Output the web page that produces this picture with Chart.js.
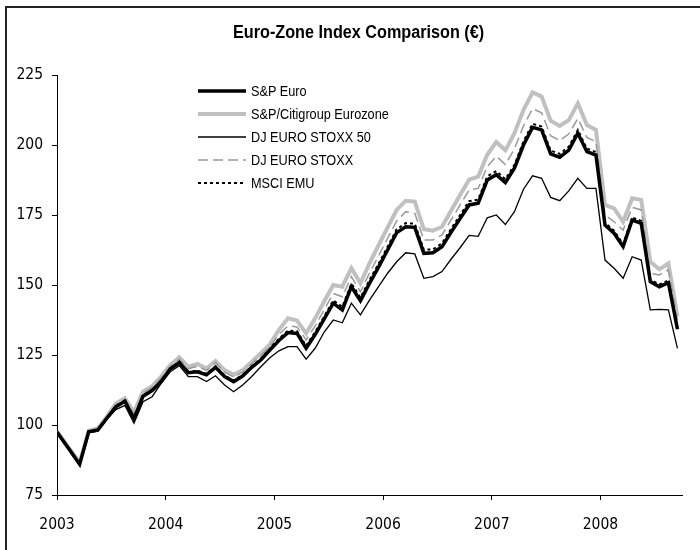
<!DOCTYPE html>
<html lang="en">
<head>
  <meta charset="UTF-8">
  <title>Euro-Zone Index Comparison (€)</title>
  <script src="https://cdn.jsdelivr.net/npm/chart.js"></script>
  <style>
    * { box-sizing: border-box; }
    html, body { margin: 0; padding: 0; background: #fff; overflow: hidden; }
    body { font-family: "Liberation Sans", Arial, sans-serif; }
    .wrap { position: relative; width: 700px; height: 550px; overflow: hidden; }
    .frame {
      position: absolute; left: 5px; top: 6px; width: 800px; height: 700px;
      border: 2px solid #222; pointer-events: none;
    }
    /* no narrow font installed, so squeeze Liberation Sans a bit */
    .title {
      position: absolute; left: 233px; top: 22px; white-space: nowrap;
      font-weight: bold; font-size: 18px; color: #000;
      transform: scaleX(0.9); transform-origin: left top;
    }
    .legend { position: absolute; left: 196px; top: 79px; }
    .legend .row { display: flex; align-items: center; height: 23.2px; }
    .legend svg { width: 52px; height: 10px; margin-right: 3px; flex: none; }
    .legend span {
      font-size: 15.5px; color: #000; white-space: nowrap;
      display: inline-block; transform: scaleX(0.82); transform-origin: left center;
    }
  </style>
</head>
<body>
  <div class="wrap">
    <canvas id="chart" width="700" height="550"></canvas>
    <div class="frame"></div>
    <div class="title">Euro-Zone Index Comparison (€)</div>
    <div class="legend" id="legend"></div>
  </div>

  <script>
    // x positions in months from Jan 2003 (first value sits on the axis, then mid-month points)
    const months = [0, 0.5, 1.5, 2.5, 3.5, 4.5, 5.5, 6.5, 7.5, 8.5, 9.5, 10.5, 11.5,
      12.5, 13.5, 14.5, 15.5, 16.5, 17.5, 18.5, 19.5, 20.5, 21.5, 22.5, 23.5,
      24.5, 25.5, 26.5, 27.5, 28.5, 29.5, 30.5, 31.5, 32.5, 33.5, 34.5, 35.5,
      36.5, 37.5, 38.5, 39.5, 40.5, 41.5, 42.5, 43.5, 44.5, 45.5, 46.5, 47.5,
      48.5, 49.5, 50.5, 51.5, 52.5, 53.5, 54.5, 55.5, 56.5, 57.5, 58.5, 59.5,
      60.5, 61.5, 62.5, 63.5, 64.5, 65.5, 66.5, 67.5, 68.5];

    const spEuro = [97.5, 95.2, 90.6, 86.0, 97.6, 98.2, 102.4, 106.5, 108.5, 102.2, 110.3, 112.3, 115.5,
      120.0, 122.3, 118.7, 119.0, 117.9, 120.6, 117.3, 115.5, 117.5, 120.6, 123.2, 126.8,
      130.2, 133.0, 132.7, 127.4, 132.3, 137.9, 143.5, 141.1, 149.4, 144.4, 150.6, 156.4,
      162.5, 168.7, 170.8, 170.6, 161.3, 161.5, 163.7, 168.8, 173.7, 178.6, 179.2, 187.5,
      189.4, 186.6, 191.7, 200.0, 206.3, 205.4, 196.8, 195.6, 198.2, 204.2, 197.6, 196.4,
      171.4, 168.5, 163.7, 173.2, 172.0, 151.2, 149.4, 150.8, 134.2];

    const citiEurozone = [97.8, 95.5, 91.0, 86.5, 98.0, 98.8, 103.0, 107.7, 109.6, 104.5, 111.9, 113.9, 117.3,
      121.4, 124.2, 120.8, 121.8, 120.2, 122.9, 119.6, 117.9, 119.6, 122.6, 125.6, 128.8,
      134.0, 138.1, 137.3, 132.7, 138.1, 144.2, 150.0, 149.4, 156.0, 150.6, 157.7, 164.2,
      170.6, 176.8, 180.1, 179.8, 169.9, 169.4, 170.8, 176.5, 182.1, 187.6, 188.7, 196.5,
      201.1, 198.1, 204.2, 212.5, 218.8, 217.3, 208.7, 206.8, 208.9, 214.9, 207.1, 205.4,
      178.6, 177.4, 172.6, 181.0, 180.4, 158.3, 155.6, 157.7, 138.7];

    const djStoxx50 = [97.3, 94.9, 90.2, 85.5, 97.3, 97.8, 102.0, 105.5, 107.0, 100.6, 108.3, 110.1, 114.9,
      119.0, 121.2, 117.3, 117.3, 115.5, 117.6, 114.3, 111.9, 114.3, 117.3, 120.8, 124.0,
      126.5, 128.0, 128.0, 123.5, 127.4, 133.2, 137.5, 136.5, 143.5, 139.3, 144.6, 149.4,
      154.2, 158.3, 161.5, 161.1, 152.4, 153.0, 154.8, 159.2, 163.3, 167.7, 167.4, 174.0,
      175.0, 171.6, 176.2, 184.2, 189.0, 188.1, 181.3, 180.1, 183.6, 188.1, 184.5, 184.5,
      158.9, 156.0, 152.4, 160.1, 158.9, 141.1, 141.3, 141.1, 127.4];

    const djStoxx = [97.7, 95.4, 90.9, 86.3, 97.9, 98.6, 102.8, 107.3, 109.2, 103.9, 111.4, 113.4, 116.8,
      120.9, 123.5, 120.1, 121.0, 119.5, 122.2, 118.9, 117.1, 118.9, 121.9, 124.8, 128.0,
      132.4, 135.4, 135.0, 130.4, 135.4, 141.2, 147.0, 145.8, 153.0, 147.6, 154.3, 160.4,
      166.7, 172.9, 176.2, 175.6, 166.1, 166.1, 167.9, 173.2, 178.6, 183.9, 184.5, 192.3,
      196.0, 193.0, 198.6, 206.8, 213.0, 211.5, 203.3, 201.6, 203.9, 209.5, 202.7, 201.2,
      175.0, 172.6, 169.6, 177.7, 176.8, 154.2, 153.6, 155.4, 137.5];

    const msciEmu = [97.5, 95.2, 90.6, 86.0, 97.6, 98.3, 102.5, 106.8, 108.7, 102.6, 110.6, 112.6, 115.8,
      120.2, 122.6, 119.0, 119.4, 118.3, 121.0, 117.7, 115.9, 117.9, 121.0, 123.7, 127.3,
      130.8, 133.7, 133.5, 128.3, 133.2, 138.8, 144.5, 142.2, 150.5, 145.5, 151.8, 157.6,
      163.7, 169.9, 172.1, 171.9, 162.6, 162.7, 164.9, 170.0, 175.0, 179.9, 180.5, 188.8,
      190.7, 187.8, 192.9, 201.3, 207.6, 206.6, 198.0, 196.8, 199.4, 205.4, 198.7, 197.5,
      172.3, 169.4, 164.6, 174.1, 172.9, 151.9, 150.2, 151.6, 134.8];

    const yearTicks = [0, 12, 24, 36, 48, 60];
    const yearLabels = ['2003', '2004', '2005', '2006', '2007', '2008'];
    const valueTicks = [75, 100, 125, 150, 175, 200, 225];

    const series = [
      { label: 'S&P Euro', data: spEuro, color: '#000', width: 3.5, dash: [], order: 2 },
      { label: 'S&P/Citigroup Eurozone', data: citiEurozone, color: '#c0c0c0', width: 4, dash: [], order: 5 },
      { label: 'DJ EURO STOXX  50', data: djStoxx50, color: '#000', width: 1.3, dash: [], order: 3 },
      { label: 'DJ EURO STOXX', data: djStoxx, color: '#999', width: 1.5, dash: [10, 5], order: 4 },
      { label: 'MSCI EMU', data: msciEmu, color: '#000', width: 2, dash: [3, 3], order: 1 }
    ];

    Chart.defaults.font.family = '"DejaVu Sans Condensed", "Liberation Sans", sans-serif';
    Chart.defaults.color = '#000';

    // html legend
    const legend = document.getElementById('legend');
    series.forEach(s => {
      const row = document.createElement('div');
      row.className = 'row';
      row.innerHTML = '<svg viewBox="0 0 52 10"><line x1="2" y1="5" x2="50" y2="5" stroke="' + s.color +
        '" stroke-width="' + Math.max(s.width, 1.3) + '" stroke-dasharray="' + (s.dash.length ? s.dash.join(' ') : 'none') +
        '"/></svg><span></span>';
      row.querySelector('span').textContent = s.label;
      legend.appendChild(row);
    });

    new Chart(document.getElementById('chart'), {
      type: 'line',
      data: {
        datasets: series.map(s => ({
          label: s.label,
          data: s.data.map((v, i) => ({ x: months[i], y: v })),
          borderColor: s.color,
          borderWidth: s.width,
          borderDash: s.dash,
          pointRadius: 0,
          tension: 0,
          fill: false,
          order: s.order
        }))
      },
      options: {
        responsive: false,
        animation: false,
        layout: { padding: { top: 75, right: 18, left: 0, bottom: 0 } },
        plugins: { legend: { display: false }, title: { display: false }, tooltip: { enabled: false } },
        scales: {
          x: {
            type: 'linear',
            min: 0,
            max: 69,
            afterFit: s => { s.height = 55; },
            afterBuildTicks: s => { s.ticks = yearTicks.map(v => ({ value: v })); },
            ticks: {
              font: { size: 15.5 },
              padding: 16,
              maxRotation: 0,
              callback: v => yearLabels[yearTicks.indexOf(v)]
            },
            grid: { drawOnChartArea: false, tickLength: 5, color: '#000' },
            border: { color: '#000', width: 1 }
          },
          y: {
            min: 75,
            max: 225,
            afterFit: s => { s.width = 57; },
            afterBuildTicks: s => { s.ticks = valueTicks.map(v => ({ value: v })); },
            ticks: { font: { size: 15.5 }, padding: 9 },
            grid: { drawOnChartArea: false, tickLength: 5, color: '#000' },
            border: { color: '#000', width: 1 }
          }
        }
      }
    });
  </script>
</body>
</html>
